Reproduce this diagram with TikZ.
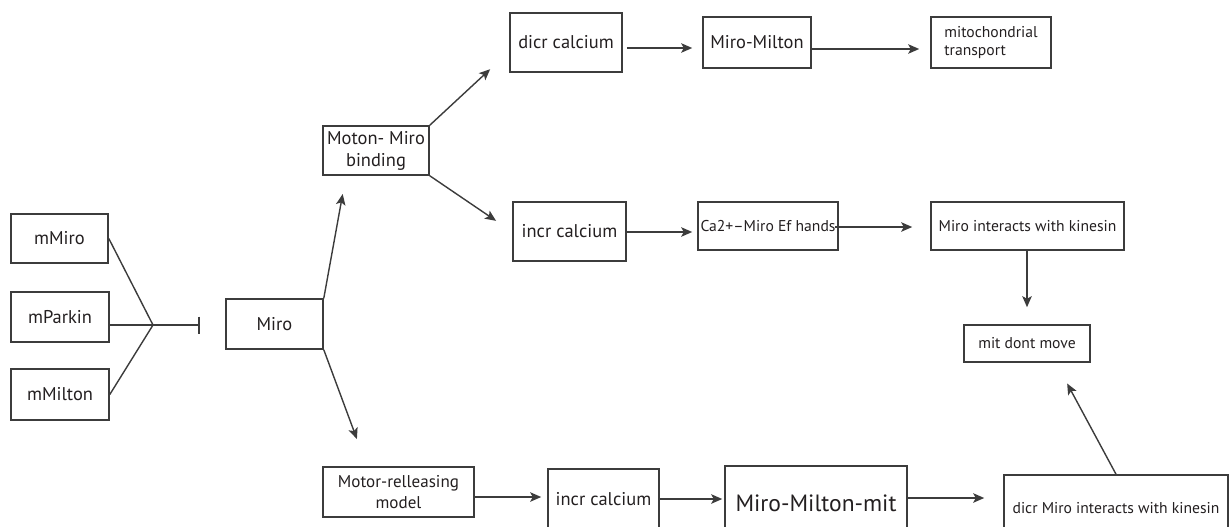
\documentclass[tikz,border=0pt]{standalone}
\usepackage{fontspec}
\setmainfont{PT Sans}
\usetikzlibrary{arrows.meta}
\definecolor{ln}{RGB}{60,60,60}
\definecolor{tx}{RGB}{35,31,32}
\tikzset{
 box/.style={draw=ln, line width=0.9pt, inner sep=0pt, text=tx, align=center, font=\fontsize{10.5pt}{12.5pt}\selectfont},
 sm/.style={font=\fontsize{8.9pt}{10.5pt}\selectfont},
 md/.style={font=\fontsize{9.7pt}{11.5pt}\selectfont},
 big/.style={font=\fontsize{13.4pt}{16pt}\selectfont},
 wh/.style 2 args={minimum width=#1*0.2mm, minimum height=#2*0.2mm},
 arr/.style={draw=ln, line width=0.8pt, -{Stealth[length=2.2mm,width=1.9mm,inset=0.5mm]}},
 plain/.style={draw=ln, line width=0.8pt},
}
\begin{document}
\begin{tikzpicture}[x=0.2mm,y=-0.2mm]
\useasboundingbox (0,0) rectangle (1229,526);
\clip (0,0) rectangle (1229,526);
% nodes
\node[box,wh={97}{49}] (mMiro) at (59.5,238.5) {mMiro};
\node[box,wh={98}{50}] (mParkin) at (60,317) {mParkin};
\node[box,wh={98}{51}] (mMilton) at (60,394.5) {mMilton};
\node[box,wh={97}{50}] (Miro) at (274.5,324) {Miro};
\node[box,wh={106}{49}] (Moton) at (376,150.5) {Moton- Miro\\binding};
\node[box,wh={112}{59}] (dicr) at (566,42.5) {dicr calcium};
\node[box,wh={108}{51}] (MM) at (757,42.5) {Miro-Milton};
\node[box,sm,wh={120}{51},align=left] (mito) at (991,42.5) {mitochondrial\\transport};
\node[box,wh={113}{59}] (incrU) at (569.5,231.5) {incr calcium};
\node[box,sm,wh={140}{48}] (Ca) at (768,226) {Ca2+–Miro Ef hands};
\node[box,sm,wh={193}{48}] (MIK) at (1027.5,226) {Miro interacts with kinesin};
\node[box,sm,wh={126}{37}] (mdm) at (1027,343.5) {mit dont move};
\node[box,md,wh={151}{50}] (Motor) at (398.5,492) {Motor-relleasing\\model};
\node[box,wh={111}{60}] (incrL) at (603.5,499) {incr calcium};
\node[box,big,wh={182}{74}] (MMm) at (816,503) {Miro-Milton-mit};
\node[box,sm,wh={224}{66}] (dM) at (1116,508) {dicr Miro interacts with kinesin};
% inhibition junction
\coordinate (J) at (153,325);
\coordinate (T) at (200,325);
\draw[plain] (mMiro.east) -- (J) -- (mMilton.east);
\draw[draw=ln, line width=1.6pt, -{Bar[width=3.4mm,line width=1.2pt]}] (mParkin.east |- J) -- (T);
% connectors
\draw[arr, shorten >=3.7mm] (Miro.north east) -- (Moton.south -| 346,0);
\draw[arr, shorten >=5.8mm] (Miro.south east) -- (Motor.north -| 367,0);
\draw[arr, shorten >=5.2mm] (Moton.north east) -- (dicr.west |- 0,51.5);
\draw[arr, shorten >=3.9mm] (Moton.south east) -- (incrU.west |- 0,231.8);
\draw[arr, shorten <=0.8mm, shorten >=2mm] (dicr.east |- 0,48) -- (MM.west |- 0,48);
\draw[arr, shorten >=2.2mm] (MM.east |- 0,49) -- (mito.west |- 0,49);
\draw[arr, shorten >=1mm] (incrU.east |- 0,232) -- (Ca.west |- 0,232);
\draw[arr, shorten <=-0.8mm, shorten >=3.6mm] (Ca.east |- 0,227) -- (MIK.west |- 0,227);
\draw[arr, shorten >=3.4mm] (MIK.south -| mdm.north) -- (mdm.north);
\draw[arr, shorten >=4.7mm] (dM.north) -- (mdm.south -| 1056,0);
\draw[arr, shorten >=1.2mm] (Motor.east |- 0,497) -- (incrL.west |- 0,497);
\draw[arr, shorten >=0.4mm] (incrL.east |- 0,499) -- (MMm.west |- 0,499);
\draw[arr, shorten >=3.8mm] (MMm.east |- 0,498) -- (dM.west |- 0,498);
\end{tikzpicture}
\end{document}
